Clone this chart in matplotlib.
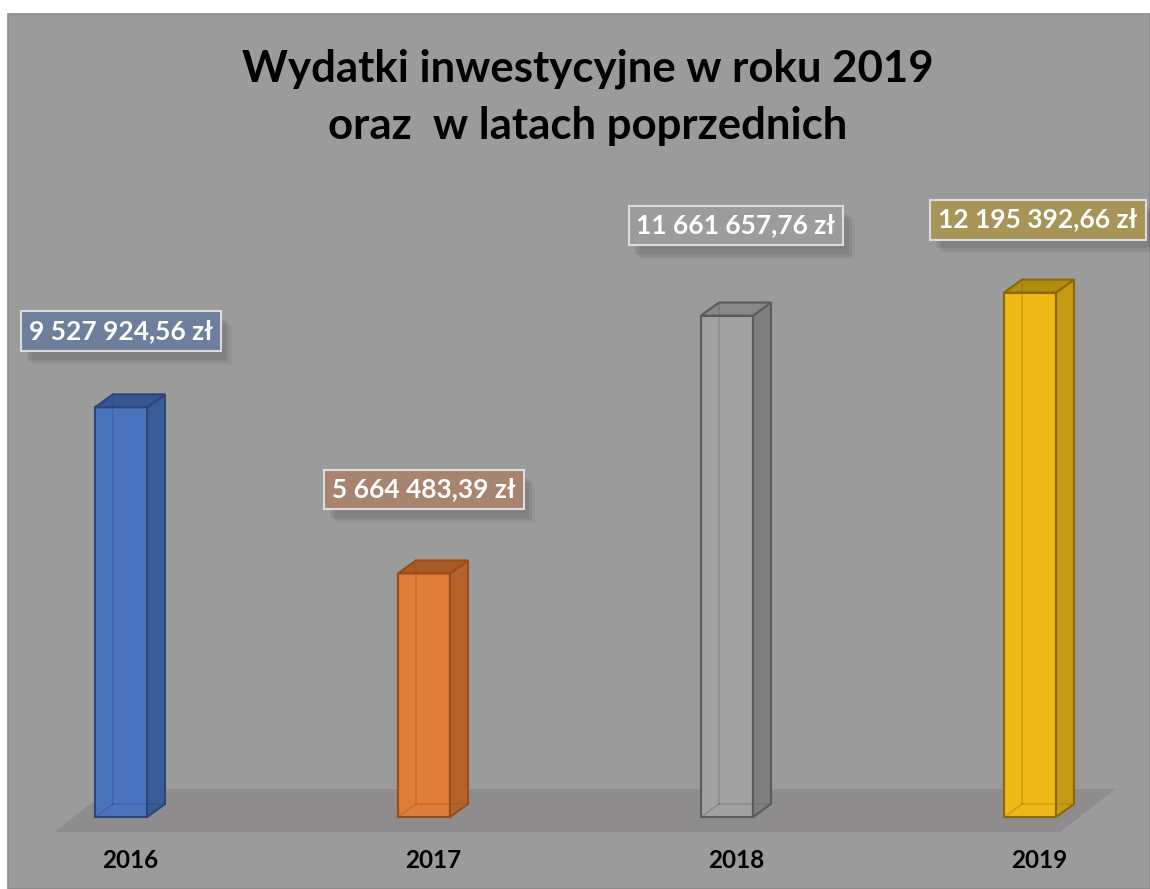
import matplotlib
matplotlib.use("Agg")
import matplotlib.pyplot as plt
import matplotlib.patheffects as pe
from matplotlib.patches import Polygon, Rectangle

years = ["2016", "2017", "2018", "2019"]
values = [9527924.56, 5664483.39, 11661657.76, 12195392.66]
value_labels = ["9 527 924,56 zł", "5 664 483,39 zł", "11 661 657,76 zł", "12 195 392,66 zł"]
title = "Wydatki inwestycyjne w roku 2019\noraz  w latach poprzednich"

front_colors = ["#4a74c0", "#e07c3a", "#a2a2a2", "#f0b816"]
side_colors = ["#3b5b97", "#b4622c", "#7e7e7e", "#c49a16"]
top_colors = ["#385690", "#a85a27", "#888888", "#b28c12"]
edge_colors = ["#2c4677", "#9a4d1a", "#5c5c5c", "#8a6a00"]
box_colors = ["#6d7f9d", "#a8846f", "#9c9c9c", "#a89457"]
label_offsets_px = [76, 84, 90, 73]
label_dx_px = [0, 0, 9, 8]

W, H = 1150, 889
base_px = 817          # pixel row of bar bottoms
step_px = 303          # distance between bar centres
first_px = 121         # centre of first bar
px_per_unit = 43e-6    # pixels per zloty

fig = plt.figure(figsize=(W / 100, H / 100), dpi=100, facecolor="white")
fig.patches.append(Rectangle((8 / W, 0), 1 - 8 / W, (H - 14) / H, transform=fig.transFigure,
                             facecolor="#9b9b9b", edgecolor="#8c8c8c", linewidth=1.2, zorder=-1))

ax = fig.add_axes([0, 0, 1, 1])
ax.set_zorder(2)
ax.set_xlim(-first_px / step_px, (W - first_px) / step_px)
ax.set_ylim(-(H - base_px) / px_per_unit, base_px / px_per_unit)
ax.axis("off")
ax.patch.set_visible(False)

xs = list(range(len(values)))
bw = 52 / step_px
dx = 18 / step_px
dy = 13 / px_per_unit

# floor
fl = xs[0] - 0.22
fr = xs[-1] + 0.10
f_front = -15 / px_per_unit
f_back = 28 / px_per_unit
f_dx = 55 / step_px
ax.add_patch(Polygon([(fl, f_front), (fr, f_front), (fr + f_dx, f_back), (fl + f_dx, f_back)],
                     closed=True, facecolor="#8e8c8d", edgecolor="none", zorder=1))

bars = ax.bar(xs, values, width=bw, color=front_colors, edgecolor=edge_colors, linewidth=1.5, zorder=3)

for i, (b, v) in enumerate(zip(bars, values)):
    left = b.get_x()
    right = left + b.get_width()
    side = Polygon([(right, 0), (right + dx, dy), (right + dx, v + dy), (right, v)], closed=True,
                   facecolor=side_colors[i], edgecolor=edge_colors[i], linewidth=1.5, zorder=3)
    top = Polygon([(left, v), (right, v), (right + dx, v + dy), (left + dx, v + dy)], closed=True,
                  facecolor=top_colors[i], edgecolor=edge_colors[i], linewidth=1.5, zorder=3)
    ax.add_patch(side)
    ax.add_patch(top)
    # back edges seen through the glassy front face
    ax.plot([left + dx, left + dx], [dy, v + dy], color=edge_colors[i], alpha=0.3, lw=1.2, zorder=4)
    ax.plot([left + dx, right + dx], [dy, dy], color=edge_colors[i], alpha=0.3, lw=1.2, zorder=4)
    ax.plot([left, left + dx], [0, dy], color=edge_colors[i], alpha=0.3, lw=1.2, zorder=4)

    t = ax.text(xs[i] + label_dx_px[i] / step_px, v + label_offsets_px[i] / px_per_unit, value_labels[i],
                ha="center", va="center", color="white", fontsize=19, fontweight="bold",
                family="Lato", zorder=6,
                bbox=dict(boxstyle="square,pad=0.3", facecolor=box_colors[i],
                          edgecolor="#dcdcdc", linewidth=1.5))
    t.get_bbox_patch().set_path_effects([
        pe.SimplePatchShadow(offset=(8, -10), shadow_rgbFace="black", alpha=0.04),
        pe.SimplePatchShadow(offset=(6, -8), shadow_rgbFace="black", alpha=0.06),
        pe.SimplePatchShadow(offset=(4, -6), shadow_rgbFace="black", alpha=0.07),
        pe.Normal()])

    ax.text(xs[i] + dx / 2, -(861 - base_px) / px_per_unit, years[i], ha="center", va="center",
            fontsize=17.5, fontweight="bold", family="Lato", color="black", zorder=6)

fig.text(0.511, 1 - 97 / H, title, ha="center", va="center", fontsize=31.5,
         fontweight="bold", family="Lato", color="black", linespacing=1.5)

fig.savefig("out.png", dpi=100, facecolor="white")
